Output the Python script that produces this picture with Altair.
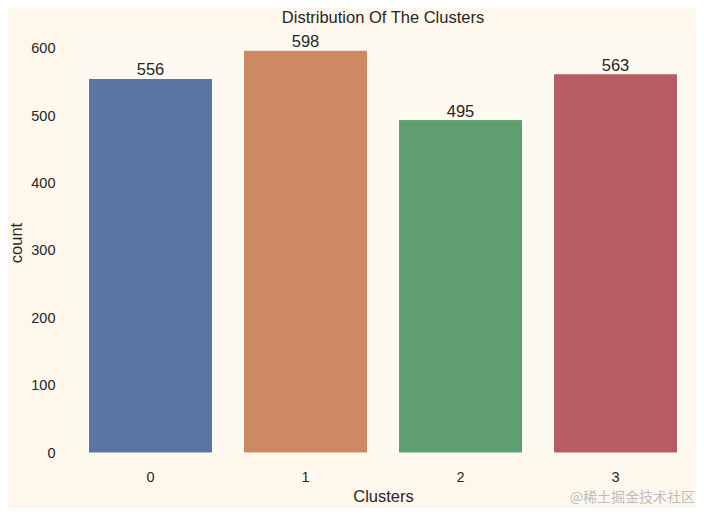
import altair as alt
import pandas as pd

clusters = ["0", "1", "2", "3"]
counts = [556, 598, 495, 563]
colors = ["#5975a4", "#cc8963", "#5f9e6e", "#b55d60"]

df = pd.DataFrame({"Clusters": clusters, "count": counts})

FONT = "Liberation Sans"
TXT = "#262626"

x = alt.X("Clusters:N", sort=clusters,
          scale=alt.Scale(paddingInner=0.2, paddingOuter=0.1),
          axis=alt.Axis(labelAngle=0, title="Clusters", ticks=False, domain=False,
                        grid=False, labelPadding=17, titlePadding=5,
                        labelFontSize=14.5, titleFontSize=16.5, labelFont=FONT, titleFont=FONT,
                        labelColor=TXT, titleColor=TXT, titleFontWeight="normal"))
y = alt.Y("count:Q", scale=alt.Scale(domain=[0, 625], nice=False),
          axis=alt.Axis(values=[0, 100, 200, 300, 400, 500, 600], title="count",
                        ticks=False, domain=False, grid=False, labelPadding=18,
                        titlePadding=6, labelFontSize=14.5, titleFontSize=16.5,
                        labelFont=FONT, titleFont=FONT, labelColor=TXT, titleColor=TXT,
                        titleFontWeight="normal"))

bars = alt.Chart(df).mark_bar(stroke="white", strokeWidth=1).encode(
    x=x, y=y,
    color=alt.Color("Clusters:N", scale=alt.Scale(domain=clusters, range=colors), legend=None),
)

labels = alt.Chart(df).mark_text(baseline="bottom", dy=0, fontSize=16.5, font=FONT, color=TXT).encode(
    x=alt.X("Clusters:N", sort=clusters), y="count:Q", text="count:Q"
)

wm = alt.Chart(pd.DataFrame({"t": ["@稀土掘金技术社区"]})).mark_text(
    align="right", baseline="middle", fontSize=14, font="Noto Sans CJK SC", color="#bdbdbd"
).encode(x=alt.value(622), y=alt.value(466), text="t:N")

chart = alt.layer(bars, labels, wm).properties(
    width=620, height=421,
    title=alt.TitleParams("Distribution Of The Clusters", fontSize=16.5, font=FONT,
                          color=TXT, fontWeight="normal", offset=6),
    autosize=alt.AutoSizeParams(type="none"),
    padding={"left": 65, "top": 24, "right": 3, "bottom": 55},
    background="#fef8ec",
).configure_view(fill="#fffaf1", stroke=None)

chart.save("out.html", embed_options={"renderer": "svg", "actions": False})
